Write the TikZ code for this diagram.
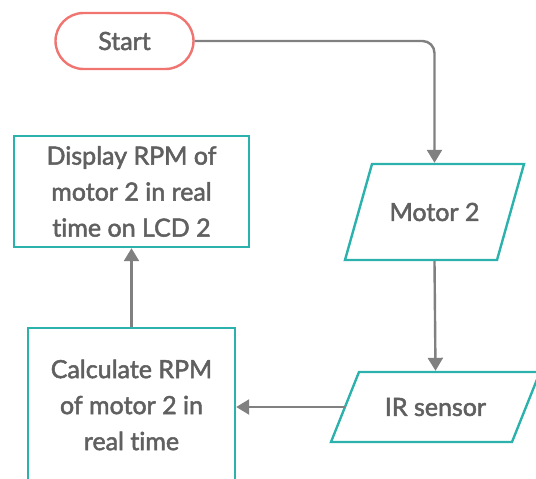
\documentclass[tikz,border=0pt]{standalone}
\usepackage{fontspec}
\setmainfont{Lato}[FakeBold=2,Ligatures=NoCommon]
\usetikzlibrary{arrows.meta}
\definecolor{teal1}{RGB}{43,178,172}
\definecolor{salmon1}{RGB}{240,116,112}
\definecolor{txt}{RGB}{96,96,96}
\definecolor{arr}{RGB}{128,128,128}
\tikzset{
  base/.style={line width=2.4pt, text=txt, align=center, font=\fontsize{25}{36}\selectfont, inner sep=0pt},
  startbox/.style={base, draw=salmon1, rectangle, rounded corners=28pt, minimum width=138pt, minimum height=56pt},
  procbox/.style={base, draw=teal1, rectangle},
  iotext/.style={base},
  ioshape/.style={draw=teal1, line width=2.4pt, line join=miter},
  conn/.style={draw=arr, line width=2.4pt, -{Triangle[width=15pt,length=13pt]}, arr}
}
\begin{document}
\begin{tikzpicture}[x=1pt,y=-1pt]
\useasboundingbox (0,0) rectangle (536,479);
\fill[white] (0,0) rectangle (536,479);
\node[startbox] (start) at (124.5,41) {Start};
% Motor 2 parallelogram
\draw[ioshape] (345,260) -- (372,164) -- (524,164) -- (497,260) -- cycle;
\node[iotext, minimum width=152pt, minimum height=96pt] (motor) at (434.5,212) {Motor 2};
% IR sensor parallelogram
\draw[ioshape] (331,442) -- (359,372) -- (540,372) -- (512,442) -- cycle;
\node[iotext, minimum width=153pt, minimum height=70pt] (ir) at (435.5,407) {IR sensor};
\coordinate (irleft) at (345,407);
\node[procbox, minimum width=207pt, minimum height=154pt] (calc) at (131.5,405) {Calculate RPM\\of motor 2 in\\real time};
\node[procbox, minimum width=235pt, minimum height=111pt] (disp) at (131.5,191.5) {Display RPM of\\motor 2 in real\\time on LCD 2};
\draw[conn, rounded corners=12pt] (start.east) -| (motor.north);
\draw[conn] (motor.south) -- (ir.north);
\draw[conn] (irleft) -- (irleft -| calc.east);
\draw[conn] (calc.north) -- (disp.south);
\end{tikzpicture}
\end{document}
